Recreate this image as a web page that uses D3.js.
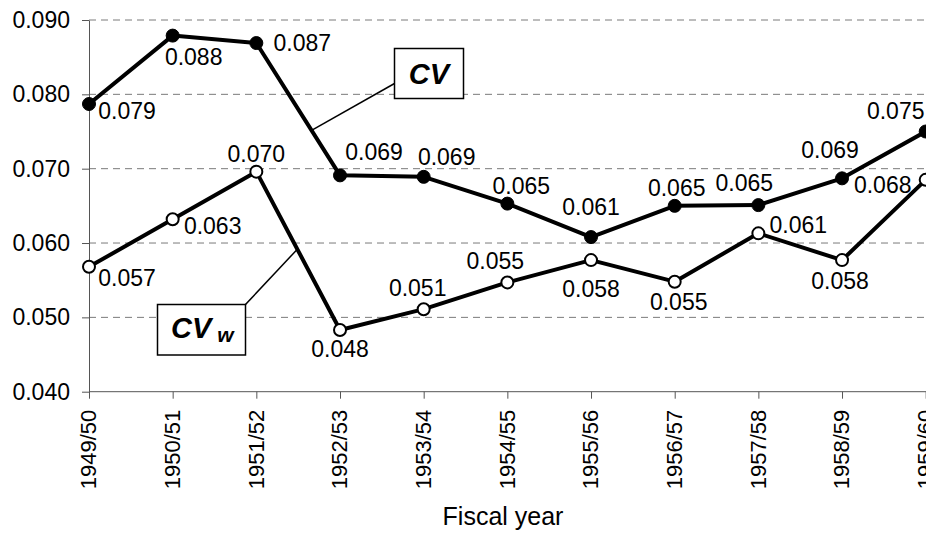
<!DOCTYPE html>
<html><head><meta charset="utf-8">
<script src="https://cdn.jsdelivr.net/npm/d3@7/dist/d3.min.js"></script>
<style>body{margin:0;background:#fff}svg{display:block}text{font-family:"Liberation Sans",Arial,sans-serif}</style>
</head><body><svg id="c" width="926" height="533"></svg>
<script>
const years = ["1949/50","1950/51","1951/52","1952/53","1953/54","1954/55","1955/56","1956/57","1957/58","1958/59","1959/60"];
const cv  = [0.0787,0.0879,0.0869,0.0691,0.0689,0.0653,0.0608,0.0650,0.0651,0.0687,0.0750];
const cvw = [0.0568,0.0632,0.0696,0.0483,0.0511,0.0547,0.0577,0.0548,0.0613,0.0577,0.0685];
const cvLabels  = ["0.079","0.088","0.087","0.069","0.069","0.065","0.061","0.065","0.065","0.069","0.075"];
const cvwLabels = ["0.057","0.063","0.070","0.048","0.051","0.055","0.058","0.055","0.061","0.058","0.068"];
const yTicks = [0.04,0.05,0.06,0.07,0.08,0.09];

// label placement offsets (dx, dy to baseline) relative to each point
const cvLabelOff  = [[38,15],[21,29],[46,8],[34,-15],[23,-12],[14,-10],[0,-22],[2,-10],[-14,-14],[-12,-20],[-30,-13]];
const cvwLabelOff = [[38,19],[40,15],[0,-10],[0,27],[-6,-13],[-12,-13],[0,37],[4,28],[40,0],[-2,29],[-43,13]];

const svg = d3.select("#c");
const x = d3.scalePoint().domain(years).range([89, 925.7]);
const y = d3.scaleLinear().domain([0.04,0.09]).range([391.7,20]);
const FS = 23;

// grid
svg.append("g").selectAll("line").data(yTicks.filter(d=>d>0.04)).join("line")
  .attr("x1",89).attr("x2",926).attr("y1",d=>y(d)).attr("y2",d=>y(d))
  .attr("stroke","#7a7a7a").attr("stroke-width",1).attr("stroke-dasharray","7,5");

// y axis
const ya = svg.append("g").attr("transform","translate(89,0)")
  .call(d3.axisLeft(y).tickValues(yTicks).tickFormat(d3.format(".3f")).tickSize(7).tickSizeOuter(0));
ya.select(".domain").attr("stroke","#555");
ya.selectAll(".tick line").attr("stroke","#555");
ya.selectAll(".tick text").attr("font-size",FS).attr("fill","#000").attr("x",-19);

// x axis
const xa = svg.append("g").attr("transform","translate(0,391.7)")
  .call(d3.axisBottom(x).tickSize(7).tickSizeOuter(0));
xa.select(".domain").attr("stroke","#555").attr("d","M89,0H926");
xa.selectAll(".tick line").attr("stroke","#555");
xa.selectAll(".tick text").attr("font-size",22).attr("fill","#000")
  .attr("transform","rotate(-90)").attr("text-anchor","end")
  .attr("x",-18).attr("y",-1).attr("dy","0.35em");

svg.append("text").attr("x",503).attr("y",525).attr("text-anchor","middle")
  .attr("font-size",25).text("Fiscal year");

const line = d3.line().x((d,i)=>x(years[i])).y(d=>y(d));
svg.append("path").datum(cv).attr("d",line).attr("fill","none").attr("stroke","#000").attr("stroke-width",4).attr("stroke-linejoin","round");
svg.append("path").datum(cvw).attr("d",line).attr("fill","none").attr("stroke","#000").attr("stroke-width",4).attr("stroke-linejoin","round");

// leader lines & boxes
function along(series,i,t){
  return [x(years[i])+(x(years[i+1])-x(years[i]))*t, y(series[i])+(y(series[i+1])-y(series[i]))*t];
}
const p1 = along(cv,2,0.66);
svg.append("line").attr("x1",p1[0]).attr("y1",p1[1]).attr("x2",394.5).attr("y2",83.5).attr("stroke","#000").attr("stroke-width",1.5);
svg.append("rect").attr("x",394.5).attr("y",48.5).attr("width",69).attr("height",50).attr("fill","#fff").attr("stroke","#000").attr("stroke-width",1.5);
svg.append("text").attr("x",429).attr("y",83.5).attr("text-anchor","middle").attr("font-size",29).attr("font-weight","bold").attr("font-style","italic").text("CV");

const p2 = along(cvw,2,0.49);
svg.append("line").attr("x1",p2[0]).attr("y1",p2[1]).attr("x2",245.5).attr("y2",304.5).attr("stroke","#000").attr("stroke-width",1.5);
svg.append("rect").attr("x",157.5).attr("y",304.5).attr("width",88).attr("height",50.5).attr("fill","#fff").attr("stroke","#000").attr("stroke-width",1.5);
const t2 = svg.append("text").attr("x",171).attr("y",338).attr("font-size",29).attr("font-weight","bold").attr("font-style","italic");
t2.append("tspan").text("CV");
t2.append("tspan").attr("font-size",21).attr("dx",6).attr("dy",4).text("w");

// markers
svg.append("g").selectAll("circle").data(cv).join("circle")
  .attr("cx",(d,i)=>x(years[i])).attr("cy",d=>y(d)).attr("r",6.5).attr("fill","#000").attr("stroke","#000").attr("stroke-width",1);
svg.append("g").selectAll("circle").data(cvw).join("circle")
  .attr("cx",(d,i)=>x(years[i])).attr("cy",d=>y(d)).attr("r",6).attr("fill","#fff").attr("stroke","#000").attr("stroke-width",2);

// data labels
svg.append("g").selectAll("text").data(cv).join("text")
  .attr("x",(d,i)=>x(years[i])+cvLabelOff[i][0]).attr("y",(d,i)=>y(d)+cvLabelOff[i][1])
  .attr("text-anchor","middle").attr("font-size",FS).text((d,i)=>cvLabels[i]);
svg.append("g").selectAll("text").data(cvw).join("text")
  .attr("x",(d,i)=>x(years[i])+cvwLabelOff[i][0]).attr("y",(d,i)=>y(d)+cvwLabelOff[i][1])
  .attr("text-anchor","middle").attr("font-size",FS).text((d,i)=>cvwLabels[i]);
</script></body></html>
